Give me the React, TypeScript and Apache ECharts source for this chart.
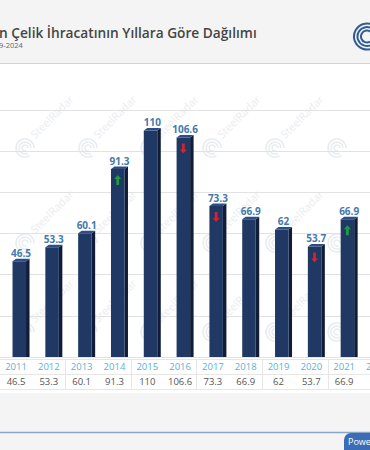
import React, { useEffect, useRef } from "react";
import * as echarts from "echarts";

// ---- data ----
const years = ["2009","2010","2011","2012","2013","2014","2015","2016","2017","2018","2019","2020","2021","2022","2023","2024"];
const exportsMt: (number | null)[] = [null, null, 46.5, 53.3, 60.1, 91.3, 110, 106.6, 73.3, 66.9, 62, 53.7, 66.9, null, null, null];
const trend = ["", "", "", "", "", "up", "", "down", "down", "", "", "down", "up", "", "", ""];
const yMin = 0;
const yMax = 120;
const yStep = 20;

const titleText = "n Çelik İhracatının Yıllara Göre Dağılımı";
const subtitleText = "9-2024";
const footerText = "Powe";
const watermarkText = "SteelRadar";

const FONT = "'Open Sans', 'Noto Sans', sans-serif";

function logoArcs(cx: number, cy: number, radii: number[], color: string, lw: number) {
  return radii.map((r) => ({
    type: "arc",
    shape: { cx, cy, r, startAngle: Math.PI / 3, endAngle: Math.PI * 2, clockwise: true },
    style: { stroke: color, lineWidth: lw, fill: "none" },
    silent: true,
  }));
}

const wmX = [25, 88, 150, 212, 275, 337];
const wmY = [148, 243, 332];

function watermarks() {
  const out: any[] = [];
  wmY.forEach((y) =>
    wmX.forEach((x, j) => {
      out.push(...logoArcs(x, y, [9, 6, 3], "#eaedf0", 1.6));
      if (j < wmX.length - 1) {
        out.push({
          type: "text",
          x: x + 11,
          y: y - 8,
          rotation: Math.PI / 4,
          silent: true,
          style: { text: watermarkText, fill: "#eaedf0", fontSize: 11, fontFamily: FONT, verticalAlign: "bottom" },
        });
      }
    })
  );
  return out;
}

const renderBar = (params: any, api: any) => {
  const idx = api.value(0);
  const v = api.value(1);
  const p = api.coord([idx, v]);
  const cx = p[0];
  const top = p[1];
  const base = api.coord([idx, 0])[1];
  const fw = 13.5;
  const sd = 3.5;
  const cap = 2.5;
  const x0 = cx - (fw + sd) / 2;
  const x1 = x0 + fw;
  const x2 = x1 + sd;
  const children: any[] = [
    { type: "polygon", shape: { points: [[x1, top], [x2, top - cap], [x2, base], [x1, base]] }, style: { fill: "#111d38" } },
    { type: "rect", shape: { x: x0, y: top, width: fw, height: base - top }, style: { fill: "#1f3864" } },
    { type: "polygon", shape: { points: [[x0, top], [x0 + sd, top - cap], [x2, top - cap], [x1, top]] }, style: { fill: "#2e4d84" } },
    {
      type: "text",
      style: {
        text: String(exportsMt[idx]),
        x: cx,
        y: top - cap - 1,
        align: "center",
        verticalAlign: "bottom",
        fill: "#4479ab",
        fontSize: 10,
        fontWeight: "bold",
        fontFamily: FONT,
      },
    },
  ];
  const t = trend[idx];
  const ac = x0 + fw / 2;
  const y0 = top + 6;
  if (t === "up") {
    children.push({
      type: "polygon",
      shape: { points: [[ac, y0], [ac + 3.5, y0 + 4], [ac + 1.4, y0 + 4], [ac + 1.4, y0 + 10], [ac - 1.4, y0 + 10], [ac - 1.4, y0 + 4], [ac - 3.5, y0 + 4]] },
      style: { fill: "#1f9a45" },
    });
  } else if (t === "down") {
    children.push({
      type: "polygon",
      shape: { points: [[ac, y0 + 10], [ac + 3.5, y0 + 6], [ac + 1.4, y0 + 6], [ac + 1.4, y0], [ac - 1.4, y0], [ac - 1.4, y0 + 6], [ac - 3.5, y0 + 6]] },
      style: { fill: "#d3232f" },
    });
  }
  return { type: "group", children };
};

const renderCell = (params: any, api: any) => {
  const idx = api.value(0);
  const yr = api.coord([idx, 1.5]);
  const vl = api.coord([idx, 0.5]);
  const v = exportsMt[idx];
  const w = api.getWidth();
  // skip cells that lie wholly outside the visible window
  if (yr[0] + 12 < 0 || yr[0] - 12 > w) return { type: "group", children: [] };
  const children: any[] = [
    { type: "text", style: { text: years[idx], x: yr[0], y: yr[1], align: "center", verticalAlign: "middle", fill: "#5ab2d4", fontSize: 9.5, fontFamily: FONT } },
  ];
  if (v != null) {
    children.push({ type: "text", style: { text: String(v), x: vl[0], y: vl[1], align: "center", verticalAlign: "middle", fill: "#555555", fontSize: 9.5, fontFamily: FONT } });
  }
  return { type: "group", children };
};

export default function App() {
  const ref = useRef<HTMLDivElement>(null);
  useEffect(() => {
    if (!ref.current) return;
    const chart = echarts.init(ref.current, null, { renderer: "svg" });
    const option: any = {
      animation: false,
      backgroundColor: "#f4f4f4",
      textStyle: { fontFamily: FONT },
      graphic: {
        elements: [
          { type: "rect", silent: true, z: -10, shape: { x: 0, y: 64, width: 370, height: 329 }, style: { fill: "#ffffff" } },
          { type: "line", silent: true, shape: { x1: 0, y1: 63.5, x2: 370, y2: 63.5 }, style: { stroke: "#d3d3d3", lineWidth: 1 } },
          { type: "line", silent: true, shape: { x1: 0, y1: 432.5, x2: 370, y2: 432.5 }, style: { stroke: "#8aa4c8", lineWidth: 1.5 } },
          ...watermarks(),
          { type: "text", x: -1, y: 32, style: { text: titleText, fill: "#454545", fontSize: 13.7, lineHeight: 14, fontWeight: 600, fontFamily: FONT, verticalAlign: "middle" } },
          { type: "text", x: -1, y: 45, style: { text: subtitleText, fill: "#666666", fontSize: 7.5, lineHeight: 8, fontFamily: FONT, verticalAlign: "middle" } },
          ...logoArcs(367, 36.5, [13, 9.5, 6], "#2f5d92", 2),
          { type: "rect", shape: { x: 344, y: 433, width: 40, height: 20, r: [7, 0, 0, 0] }, style: { fill: "#3a6db5" } },
          { type: "text", x: 348, y: 441.5, style: { text: footerText, fill: "#ffffff", fontSize: 9, fontFamily: FONT, verticalAlign: "middle" } },
        ],
      },
      grid: [
        { left: -61, top: 110, width: 525, height: 247, outerBoundsMode: "none", containLabel: false },
        { left: -66, top: 359, width: 525, height: 30, outerBoundsMode: "none", containLabel: false },
      ],
      xAxis: [
        { type: "category", data: years, gridIndex: 0, axisLine: { show: false }, axisTick: { show: false }, axisLabel: { show: false }, splitLine: { show: false } },
        { type: "category", data: years, gridIndex: 1, axisLine: { show: false }, axisTick: { show: false }, axisLabel: { show: false }, splitLine: { show: true, lineStyle: { color: "#e6e6e6" } } },
      ],
      yAxis: [
        { type: "value", gridIndex: 0, min: yMin, max: yMax, interval: yStep, axisLabel: { show: false }, axisLine: { show: false }, axisTick: { show: false }, splitLine: { lineStyle: { color: "#e2e2e2" } } },
        { type: "value", gridIndex: 1, min: 0, max: 2, interval: 1, axisLabel: { show: false }, axisLine: { show: false }, axisTick: { show: false }, splitLine: { lineStyle: { color: "#e6e6e6" } } },
      ],
      series: [
        {
          type: "custom",
          xAxisIndex: 0,
          yAxisIndex: 0,
          z: 5,
          data: exportsMt.map((v, i) => [i, v]).filter((d) => d[1] != null),
          renderItem: renderBar,
        },
        {
          type: "custom",
          xAxisIndex: 1,
          yAxisIndex: 1,
          z: 5,
          data: years.map((y, i) => [i, 1]),
          renderItem: renderCell,
        },
      ],
    };
    chart.setOption(option);
    return () => chart.dispose();
  }, []);
  return <div ref={ref} style={{ position: "fixed", left: 0, top: 0, width: 370, height: 450 }} />;
}
